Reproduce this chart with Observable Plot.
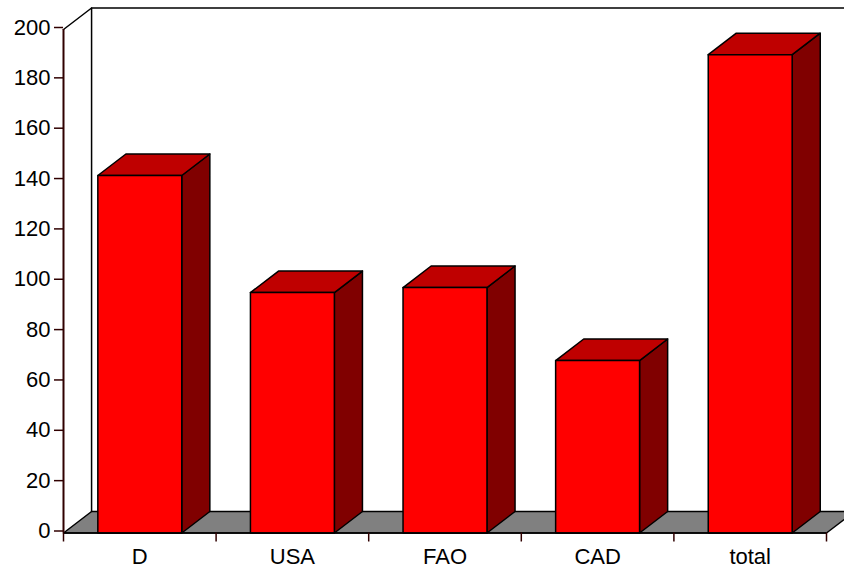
<!DOCTYPE html>
<html>
<head>
<meta charset="utf-8">
<script src="https://cdn.jsdelivr.net/npm/d3@7"></script>
<script src="https://cdn.jsdelivr.net/npm/@observablehq/plot@0.6"></script>
<style>
  html, body { margin: 0; padding: 0; background: #fff; overflow: hidden; }
  svg { display: block; }
</style>
</head>
<body>
<div id="chart"></div>
<script>
const categories = ["D", "USA", "FAO", "CAD", "total"];
const values = [142, 95.5, 97.5, 68.5, 190];
const yTicks = [0, 20, 40, 60, 80, 100, 120, 140, 160, 180, 200];
const yMax = 200;

// Oblique extrusion of the box, in data units on each axis
const depthX = 0.184;
const depthY = 8.55;
// Bar edges within each category slot
const barStart = 0.225;
const barEnd = 0.775;

const polygon = (...corners) => corners.map(([x, y]) => ({x, y}));
const n = categories.length;

const floor = polygon([0, 0], [n, 0], [n + depthX, depthY], [depthX, depthY]);
const wall = polygon([0, yMax], [depthX, yMax + depthY], [n + depthX, yMax + depthY]);
const wallPost = polygon([depthX, depthY], [depthX, yMax + depthY]);

const faces = categories.flatMap((name, i) => {
  const v = values[i];
  const x0 = i + barStart;
  const x1 = i + barEnd;
  return [
    {name, face: "side", fill: "#800000", pts: polygon([x1, 0], [x1 + depthX, depthY], [x1 + depthX, v + depthY], [x1, v])},
    {name, face: "top", fill: "#bf0000", pts: polygon([x0, v], [x1, v], [x1 + depthX, v + depthY], [x0 + depthX, v + depthY])},
    {name, face: "front", fill: "#ff0000", pts: polygon([x0, 0], [x1, 0], [x1, v], [x0, v])}
  ];
});

const faceMarks = faces.map(f =>
  Plot.line(f.pts, {x: "x", y: "y", fill: f.fill, stroke: "#000", strokeWidth: 1.5, curve: "linear-closed"})
);

const fontFamily = "'Liberation Sans', Arial, sans-serif";

const chart = Plot.plot({
  width: 844,
  height: 574,
  marginLeft: 63,
  marginRight: 18,
  marginTop: 29,
  marginBottom: 41.5,
  style: {fontFamily, background: "#fff", color: "#000", overflow: "hidden"},
  x: {domain: [0, n], range: [63, 826], axis: null},
  y: {domain: [0, yMax], range: [532.5, 29], axis: null},
  marks: [
    Plot.line(floor, {x: "x", y: "y", fill: "#808080", stroke: "#000", strokeWidth: 1.5, curve: "linear-closed"}),
    Plot.line(wall, {x: "x", y: "y", stroke: "#000", strokeWidth: 1.5}),
    Plot.line(wallPost, {x: "x", y: "y", stroke: "#000", strokeWidth: 1.5}),
    ...faceMarks,
    Plot.ruleY([0], {x1: 0, x2: n, stroke: "#000", strokeWidth: 1.5}),
    Plot.ruleX([0], {y1: 0, y2: yMax, stroke: "#300000", strokeWidth: 2}),
    Plot.axisY({
      ticks: yTicks,
      tickSize: 9,
      tickPadding: 4,
      stroke: "#300000",
      strokeWidth: 1.5,
      strokeOpacity: 1,
      fontSize: 22,
      dy: -2,
      tickFormat: d => String(d),
      label: null
    }),
    Plot.axisX({
      ticks: d3.range(n + 1),
      tickSize: 9,
      tickFormat: () => "",
      stroke: "#300000",
      strokeWidth: 1.5,
      strokeOpacity: 1,
      label: null
    }),
    Plot.axisX({
      ticks: categories.map((_, i) => i + 0.5),
      tickSize: 0,
      tickPadding: 15,
      fontSize: 22,
      tickFormat: d => categories[Math.floor(d)],
      label: null
    })
  ]
});

document.getElementById("chart").append(chart);
</script>
</body>
</html>
